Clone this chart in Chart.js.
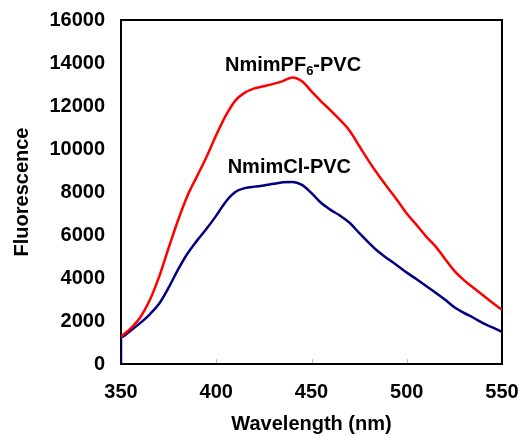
<!DOCTYPE html>
<html>
<head>
<meta charset="utf-8">
<script src="https://cdn.jsdelivr.net/npm/chart.js@4.4.1/dist/chart.umd.min.js"></script>
<style>
  html, body { margin: 0; padding: 0; background: #fff; }
  #wrap { width: 519px; height: 436px; }
</style>
</head>
<body>
<div id="wrap"><canvas id="fluoChart"></canvas></div>
<script>
// emission spectra (every 5 nm)
const wavelengths = [350, 355, 360, 365, 370, 375, 380, 385, 390, 395, 400, 405, 410, 415, 420, 425, 430, 435, 440, 445,
  450, 455, 460, 465, 470, 475, 480, 485, 490, 495, 500, 505, 510, 515, 520, 525, 530, 535, 540, 545, 550];
const pf6Values = [1270, 1650, 2150, 2950, 4050, 5400, 6700, 7850, 8750, 9650, 10650, 11550, 12250, 12620, 12820, 12920, 13030, 13160, 13330, 13150,
  12680, 12220, 11800, 11350, 10850, 10150, 9450, 8800, 8200, 7620, 7000, 6480, 5950, 5480, 4900, 4330, 3900, 3550, 3200, 2850, 2520];
const clValues = [1250, 1550, 1900, 2300, 2800, 3550, 4400, 5150, 5750, 6300, 6900, 7550, 8000, 8180, 8250, 8300, 8380, 8450, 8470, 8330,
  7950, 7500, 7170, 6900, 6570, 6100, 5650, 5230, 4900, 4580, 4250, 3950, 3640, 3330, 3000, 2640, 2380, 2150, 1900, 1700, 1500];
// blue trace starts at zero on the 350 nm edge
const clStart = 0;
const xTicks = [350, 400, 450, 500, 550];

// curve labels, placed in data coordinates (left edge, vertical middle)
const seriesLabels = [
  { x: 404.6, y: 13900, main: "NmimPF", sub: "6", tail: "-PVC" },
  { x: 406.0, y: 9150, main: "NmimCl-PVC", sub: "", tail: "" }
];

const pf6Points = wavelengths.map((w, i) => ({ x: w, y: pf6Values[i] }));
const clPoints = [{ x: wavelengths[0], y: clStart }].concat(wavelengths.map((w, i) => ({ x: w, y: clValues[i] })));

const fontFam = "Arial, 'Liberation Sans', sans-serif";

// box round the plot and small inner ticks on the x axis (under the curves),
// then the curve labels on top
const framePlugin = {
  id: "frame",
  beforeDatasetsDraw(chart) {
    const { ctx, chartArea: a, scales } = chart;
    ctx.save();
    ctx.strokeStyle = "#bbbbbb";
    ctx.lineWidth = 1;
    xTicks.slice(1, -1).forEach(v => {
      const px = Math.round(scales.x.getPixelForValue(v)) + 0.5;
      ctx.beginPath();
      ctx.moveTo(px, a.bottom);
      ctx.lineTo(px, a.bottom - 5);
      ctx.stroke();
    });
    ctx.strokeStyle = "#000";
    ctx.lineWidth = 2;
    ctx.strokeRect(a.left, a.top, a.right - a.left, a.bottom - a.top);
    ctx.restore();
  },
  afterDatasetsDraw(chart) {
    const { ctx, scales } = chart;
    ctx.save();
    ctx.fillStyle = "#000";
    ctx.textBaseline = "middle";
    ctx.textAlign = "left";
    seriesLabels.forEach(l => {
      let px = scales.x.getPixelForValue(l.x);
      const py = scales.y.getPixelForValue(l.y);
      ctx.font = "bold 20px " + fontFam;
      ctx.fillText(l.main, px, py);
      px += ctx.measureText(l.main).width;
      if (l.sub) {
        ctx.font = "bold 13px " + fontFam;
        ctx.fillText(l.sub, px, py + 6);
        px += ctx.measureText(l.sub).width;
      }
      if (l.tail) {
        ctx.font = "bold 20px " + fontFam;
        ctx.fillText(l.tail, px, py);
      }
    });
    ctx.restore();
  }
};

new Chart(document.getElementById("fluoChart"), {
  type: "line",
  data: {
    datasets: [
      { label: "NmimPF6-PVC", data: pf6Points, borderColor: "#ff0000", borderWidth: 2.5, pointRadius: 0, fill: false, cubicInterpolationMode: "monotone" },
      { label: "NmimCl-PVC", data: clPoints, borderColor: "#000080", borderWidth: 2.5, pointRadius: 0, fill: false, cubicInterpolationMode: "monotone" }
    ]
  },
  options: {
    responsive: true,
    maintainAspectRatio: false,
    animation: false,
    layout: { padding: { top: 20, right: 17, bottom: 0, left: 0 } },
    plugins: { legend: { display: false }, tooltip: { enabled: false } },
    scales: {
      x: {
        type: "linear",
        min: 350,
        max: 550,
        afterBuildTicks: axis => { axis.ticks = xTicks.map(v => ({ value: v })); },
        afterFit: axis => { axis.height = 72; axis.paddingRight = 0; axis.paddingLeft = 0; },
        grid: { display: false, drawTicks: false },
        border: { display: false },
        ticks: { color: "#000", padding: 16, callback: v => String(v), font: { family: fontFam, size: 20, weight: "bold" } },
        title: { display: true, text: "Wavelength (nm)", color: "#000", padding: { top: 0, bottom: 0 },
          font: { family: fontFam, size: 20, weight: "bold" } }
      },
      y: {
        min: 0,
        max: 16000,
        afterFit: axis => { axis.width = 121; axis.paddingTop = 0; axis.paddingBottom = 0; },
        grid: { display: false, drawTicks: false },
        border: { display: false },
        ticks: { stepSize: 2000, color: "#000", padding: 16, callback: v => String(v), font: { family: fontFam, size: 20, weight: "bold" } },
        title: { display: true, text: "Fluorescence", color: "#000", padding: { top: 10, bottom: 0 },
          font: { family: fontFam, size: 20, weight: "bold" } }
      }
    }
  },
  plugins: [framePlugin]
});
</script>
</body>
</html>
